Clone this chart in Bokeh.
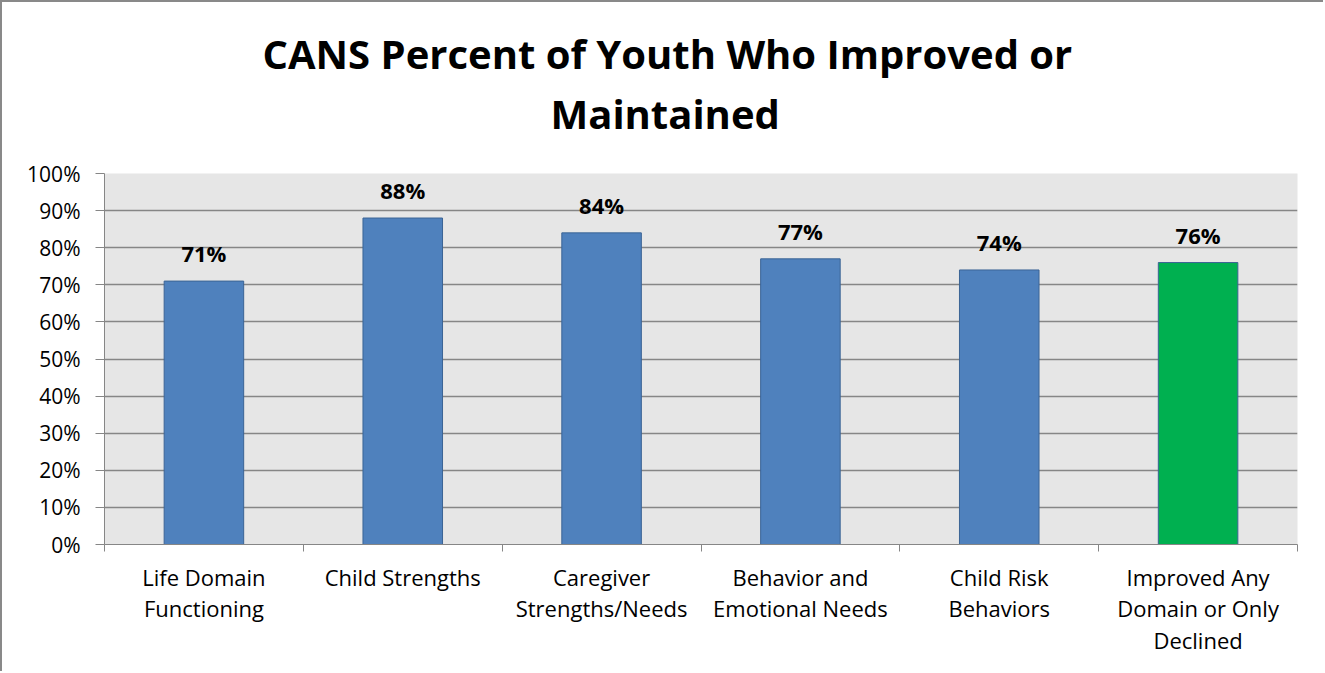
from bokeh.plotting import figure
from bokeh.models import Range1d, FixedTicker, ColumnDataSource, Title
from bokeh.core.properties import value
from bokeh.embed import file_html
from bokeh.resources import INLINE

categories = ["Life Domain\nFunctioning", "Child Strengths", "Caregiver\nStrengths/Needs",
              "Behavior and\nEmotional Needs", "Child Risk\nBehaviors",
              "Improved Any\nDomain or Only\nDeclined"]
values = [71, 88, 84, 77, 74, 76]
value_labels = ["71%", "88%", "84%", "77%", "74%", "76%"]
bar_colors = ["#4F81BD", "#4F81BD", "#4F81BD", "#4F81BD", "#4F81BD", "#00B050"]
y_ticks = [0, 10, 20, 30, 40, 50, 60, 70, 80, 90, 100]
y_tick_labels = ["0%", "10%", "20%", "30%", "40%", "50%", "60%", "70%", "80%", "90%", "100%"]
title_lines = ["CANS Percent of Youth Who Improved or", "Maintained"]

FONT = "Open Sans"
n = len(categories)
xs = [i + 0.5 for i in range(n)]
source = ColumnDataSource(dict(x=xs, top=values, color=bar_colors, label=value_labels))

p = figure(width=1323, height=671, output_backend="svg", toolbar_location=None,
           x_range=Range1d(0, n), y_range=Range1d(0, 100), title=None,
           min_border_left=102, min_border_right=28, min_border_top=171, min_border_bottom=129,
           background_fill_color="#E6E6E6", border_fill_color="white",
           styles={"border-left": "2px solid #898989", "border-top": "2px solid #898989"})
p.outline_line_color = None

# title: two stacked lines, the one added first sits next to the plot
title_offsets = [446, 158]      # left offsets (px from plot frame) of "Maintained" and line 1
title_standoffs = [61, -54]
for line, off, so in zip(reversed(title_lines), title_offsets, title_standoffs):
    t = Title(text=line, align="left", vertical_align="top", text_font=FONT,
              text_font_style="bold", text_font_size="40px", text_color="black",
              offset=off, standoff=so)
    p.add_layout(t, "above")

p.vbar(x="x", top="top", width=0.4, bottom=0, source=source,
       fill_color="color", line_color="#3B6495", line_width=1)
p.text(x="x", y="top", text="label", source=source, y_offset=-13,
       text_align="center", text_baseline="bottom",
       text_font=value(FONT), text_font_style="bold", text_font_size="22px", text_color="black")

# y axis
p.yaxis.ticker = FixedTicker(ticks=y_ticks)
p.yaxis.major_label_overrides = {t: l for t, l in zip(y_ticks, y_tick_labels)}
p.yaxis.major_label_text_font = FONT
p.yaxis.major_label_text_font_size = "21px"
p.yaxis.major_label_text_color = "black"
p.yaxis.axis_line_color = "#868686"
p.yaxis.major_tick_line_color = "#868686"
p.yaxis.major_tick_out = 9
p.yaxis.major_tick_in = 0
p.yaxis.minor_tick_line_color = None
p.yaxis.major_label_standoff = 15

# x axis: labels at centres, tick marks at boundaries (as minor ticks)
p.xaxis.ticker = FixedTicker(ticks=xs, minor_ticks=list(range(n + 1)))
p.xaxis.major_label_overrides = {x: c for x, c in zip(xs, categories)}
p.xaxis.major_label_text_font = FONT
p.xaxis.major_label_text_font_size = "22px"
p.xaxis.major_label_text_color = "black"
p.xaxis.major_label_text_line_height = 1.05
p.xaxis.axis_line_color = "#868686"
p.xaxis.major_tick_line_color = None
p.xaxis.minor_tick_line_color = "#868686"
p.xaxis.minor_tick_out = 7
p.xaxis.minor_tick_in = 0
p.xaxis.major_label_standoff = 10

p.xgrid.grid_line_color = None
p.ygrid.grid_line_color = "#868686"
p.ygrid.grid_line_width = 1.5

open("out.html", "w").write(file_html(p, INLINE))
